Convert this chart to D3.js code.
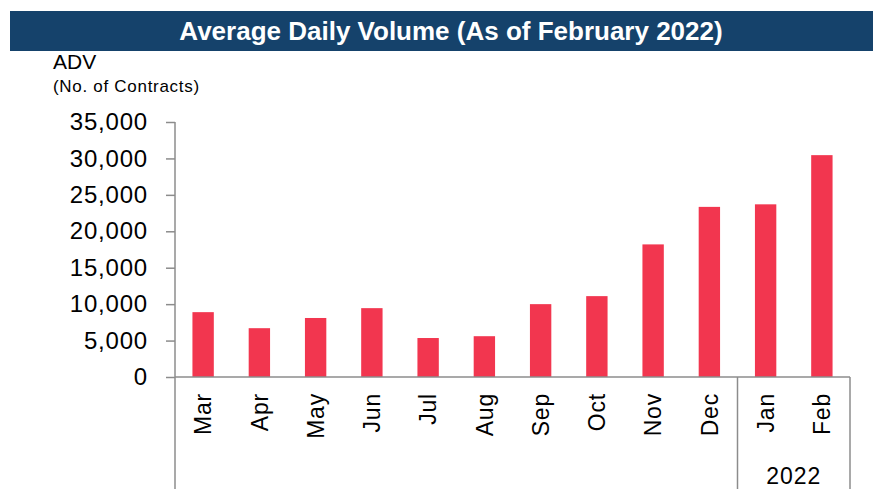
<!DOCTYPE html>
<html>
<head>
<meta charset="utf-8">
<script src="https://cdn.jsdelivr.net/npm/d3@7"></script>
<style>
  body { margin: 0; background: #fff; }
  svg { display: block; font-family: "Liberation Sans", Arial, sans-serif; }
</style>
</head>
<body>
<script>
// data
var months = ["Mar", "Apr", "May", "Jun", "Jul", "Aug", "Sep", "Oct", "Nov", "Dec", "Jan", "Feb"];
var adv = [8900, 6700, 8100, 9450, 5350, 5600, 10000, 11100, 18200, 23350, 23700, 30450];
var yTicks = [0, 5000, 10000, 15000, 20000, 25000, 30000, 35000];
var yearLabel = "2022";
var yearStart = "Jan";

var W = 873, H = 489;
var plot = {left: 175, right: 850, top: 122, bottom: 377};

var svg = d3.select("body").append("svg")
  .attr("width", W)
  .attr("height", H);

// title banner
svg.append("rect")
  .attr("x", 10).attr("y", 11)
  .attr("width", W - 10).attr("height", 40)
  .attr("fill", "#15426b");
svg.append("text")
  .attr("x", 451).attr("y", 40)
  .attr("text-anchor", "middle")
  .attr("fill", "#fff")
  .style("font-weight", "bold")
  .style("font-size", "26px")
  .text("Average Daily Volume (As of February 2022)");

// y axis caption
svg.append("text")
  .attr("x", 53).attr("y", 69)
  .style("font-size", "21px")
  .text("ADV");
svg.append("text")
  .attr("x", 53).attr("y", 92)
  .style("font-size", "17px")
  .style("letter-spacing", "0.7px")
  .text("(No. of Contracts)");

var x = d3.scaleBand().domain(months)
  .range([plot.left, plot.right])
  .paddingInner(0.62).paddingOuter(0.31);
var y = d3.scaleLinear().domain([0, 35000]).range([plot.bottom, plot.top]);

var axisColor = "#8c8c8c";

// bars
svg.append("g").selectAll("rect")
  .data(months)
  .join("rect")
  .attr("x", function(d) { return x(d); })
  .attr("y", function(d, i) { return y(adv[i]); })
  .attr("width", x.bandwidth())
  .attr("height", function(d, i) { return y(0) - y(adv[i]); })
  .attr("fill", "#f2364f");

// y axis
var gy = svg.append("g")
  .attr("transform", "translate(" + plot.left + ",0)")
  .call(d3.axisLeft(y).tickValues(yTicks).tickFormat(d3.format(",")).tickSize(9).tickSizeOuter(0));
gy.select(".domain").remove();
gy.selectAll(".tick line").attr("stroke", axisColor).attr("stroke-width", 1.5);
gy.selectAll(".tick text")
  .attr("x", -27)
  .attr("fill", "#000")
  .style("font-family", "'Liberation Sans', Arial, sans-serif")
  .style("font-size", "24px")
  .style("letter-spacing", "0.8px");

// x axis with rotated month labels
var gx = svg.append("g")
  .attr("transform", "translate(0," + plot.bottom + ")")
  .call(d3.axisBottom(x).tickSize(0).tickSizeOuter(0));
gx.select(".domain").remove();
gx.selectAll(".tick text")
  .attr("transform", "rotate(-90)")
  .attr("x", -16)
  .attr("y", 0)
  .attr("dy", "0.36em")
  .attr("text-anchor", "end")
  .attr("fill", "#000")
  .style("font-family", "'Liberation Sans', Arial, sans-serif")
  .style("font-size", "23px")
  .style("letter-spacing", "0.8px");

// axis frame lines
var sepX = x(yearStart) - x.step() * x.paddingInner() / 2;
var frame = svg.append("g")
  .attr("stroke", axisColor)
  .attr("stroke-width", 1.5)
  .attr("fill", "none");
frame.append("line")
  .attr("x1", plot.left).attr("x2", plot.left)
  .attr("y1", y(35000)).attr("y2", H);
frame.append("line")
  .attr("x1", plot.left).attr("x2", plot.right)
  .attr("y1", y(0)).attr("y2", y(0));
frame.append("line")
  .attr("x1", sepX).attr("x2", sepX)
  .attr("y1", y(0)).attr("y2", H);
frame.append("line")
  .attr("x1", plot.right).attr("x2", plot.right)
  .attr("y1", y(0)).attr("y2", H);

// year group label
svg.append("text")
  .attr("x", (sepX + plot.right) / 2)
  .attr("y", 484)
  .attr("text-anchor", "middle")
  .style("font-size", "23px")
  .style("letter-spacing", "1px")
  .text(yearLabel);
</script>
</body>
</html>
